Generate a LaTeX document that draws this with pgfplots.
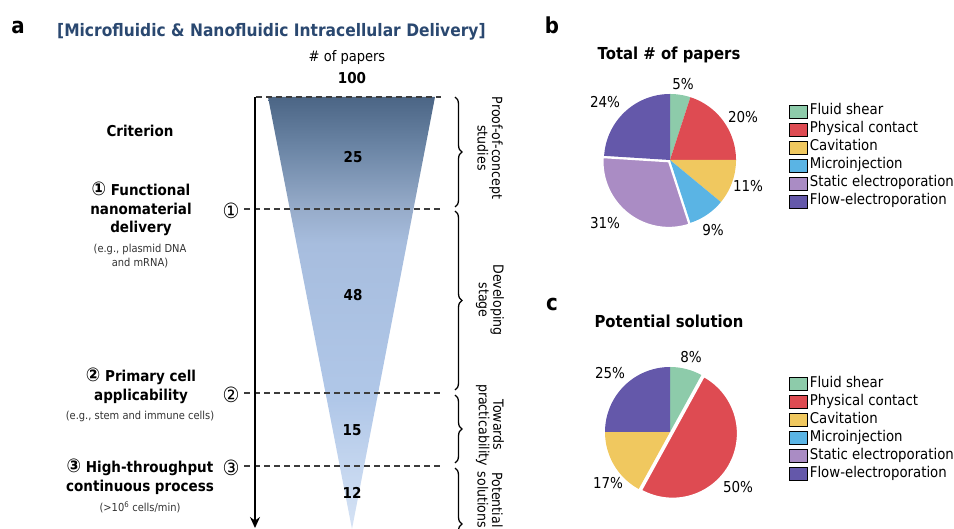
\documentclass[border=0pt]{standalone}
\usepackage{pgfplots}
\pgfplotsset{compat=1.18}
\usepackage{fontspec}
\setmainfont{DejaVu Sans}[FakeStretch=0.9]
\usetikzlibrary{arrows.meta,decorations.pathreplacing}

\definecolor{fs}{RGB}{141,203,170}
\definecolor{pc}{RGB}{222,75,82}
\definecolor{cav}{RGB}{240,200,95}
\definecolor{mi}{RGB}{90,180,228}
\definecolor{se}{RGB}{170,140,196}
\definecolor{fe}{RGB}{100,88,170}
\definecolor{titleblue}{RGB}{42,72,112}
\definecolor{dashgray}{RGB}{60,60,60}
\definecolor{ftop}{RGB}{75,101,133}
\definecolor{fa}{RGB}{108,134,166}
\definecolor{fb}{RGB}{151,172,202}
\definecolor{fc}{RGB}{167,189,222}
\definecolor{fd}{RGB}{176,199,232}
\definecolor{fbot}{RGB}{214,227,245}
\pgfdeclareverticalshading{funnelshade}{100bp}{color(0bp)=(fbot); color(25bp)=(fbot); color(40bp)=(fd); color(58bp)=(fc); color(62bp)=(fb); color(69bp)=(fa); color(75bp)=(ftop); color(100bp)=(ftop)}

\pgfplotsset{canvas/.style={x=1pt,y=1pt,xmin=0,xmax=954,ymin=-529,ymax=0,
  hide axis,clip=false,scale only axis,anchor=north west,at={(0pt,0pt)}},
  pielegend/.style={
    legend image code/.code={\fill[##1] (0pt,-6.5pt) rectangle (18pt,6.5pt);},
    legend style={draw=none,fill=none,inner sep=0pt,outer sep=0pt,row sep=0pt,
      anchor=north west,font=\fontsize{14.8}{17}\selectfont,
      cells={anchor=west},
      nodes={inner xsep=2.5pt,inner ysep=0pt,text height=12pt,text depth=6pt}}}}

\tikzset{lbl/.style={inner sep=0pt}}
\newcommand{\cnum}[1]{{\fontsize{19}{18}\selectfont #1}}

% slice: cx, cy, r, cum start, cum end, color
\newcommand{\slice}[6]{%
  \addplot[fill=#6,draw=none,domain={90-3.6*#5}:{90-3.6*#4},samples=60,forget plot]
    ({#1+#3*cos(x)},{#2+#3*sin(x)}) -- (axis cs:#1,#2) -- cycle;}
\newcommand{\xslice}[6]{%
  \addplot[fill=#6,draw=white,line width=1.5pt,domain={90-3.6*#5}:{90-3.6*#4},samples=60,forget plot]
    ({#1+#3*cos(x)},{#2+#3*sin(x)}) -- (axis cs:#1,#2) -- cycle;}

\begin{document}
\begin{tikzpicture}
\useasboundingbox (0,0) rectangle (954pt,-529pt);

% ---------------- panel a ----------------
\begin{axis}[canvas]
  % funnel (100 papers at top, narrowing)
  \addplot[draw=none,shading=funnelshade] coordinates {(268,-97) (435,-97) (352,-529)} -- cycle;

  % dashed criterion lines
  \draw[dashgray,line width=1.2pt,dash pattern=on 6pt off 4pt] (256,-97) -- (441,-97);
  \draw[dashgray,line width=1.2pt,dash pattern=on 6pt off 4pt] (244,-209) -- (441,-209);
  \draw[dashgray,line width=1.2pt,dash pattern=on 6pt off 4pt] (244,-393) -- (441,-393);
  \draw[dashgray,line width=1.2pt,dash pattern=on 6pt off 4pt] (244,-466) -- (441,-466);

  % arrow
  \draw[line width=1.5pt,-{Stealth[length=11pt,width=10pt]}] (255,-97) -- (255,-528);

  % braces
  \draw[line width=1.3pt,decorate,decoration={brace,amplitude=7pt}] (455,-97) -- (455,-207);
  \draw[line width=1.3pt,decorate,decoration={brace,amplitude=7pt}] (455,-211) -- (455,-390);
  \draw[line width=1.3pt,decorate,decoration={brace,amplitude=7pt}] (455,-395) -- (455,-463);
  \draw[line width=1.3pt,decorate,decoration={brace,amplitude=7pt}] (455,-468) -- (455,-580);

  % titles
  \node[lbl,font=\bfseries\fontsize{22}{24}\selectfont] at (18,-27) {a};
  \node[lbl,anchor=west,font=\bfseries\fontsize{17.2}{20}\selectfont,text=titleblue] at (57,-32) {[Microfluidic \& Nanofluidic Intracellular Delivery]};
  \node[lbl,font=\fontsize{14.5}{17}\selectfont] at (347,-58) {\# of papers};
  \node[lbl,font=\bfseries\fontsize{15}{18}\selectfont] at (352,-78) {100};

  % numbers in funnel
  \node[lbl,font=\bfseries\fontsize{15}{18}\selectfont] at (353,-157) {25};
  \node[lbl,font=\bfseries\fontsize{15}{18}\selectfont] at (353,-295) {48};
  \node[lbl,font=\bfseries\fontsize{15}{18}\selectfont] at (352,-430) {15};
  \node[lbl,font=\bfseries\fontsize{15}{18}\selectfont] at (352,-493) {12};

  % circled markers
  \node[lbl,font=\fontsize{21}{22}\selectfont] at (231,-211) {①};
  \node[lbl,font=\fontsize{21}{22}\selectfont] at (231,-395) {②};
  \node[lbl,font=\fontsize{21}{22}\selectfont] at (231,-468) {③};

  % criteria
  \node[lbl,font=\bfseries\fontsize{15}{18}\selectfont] at (140,-131) {Criterion};
  \node[lbl,align=center,font=\bfseries\fontsize{15}{18.5}\selectfont] at (141,-209) {\cnum{①} Functional\\nanomaterial\\delivery};
  \node[lbl,align=center,font=\fontsize{11}{14}\selectfont,text=black!80] at (140,-256) {(e.g., plasmid DNA\\and mRNA)};
  \node[lbl,align=center,font=\bfseries\fontsize{15}{18.5}\selectfont] at (141,-386) {\cnum{②} Primary cell\\applicability};
  \node[lbl,align=center,font=\fontsize{11}{14}\selectfont,text=black!80] at (140,-416) {(e.g., stem and immune cells)};
  \node[lbl,align=center,font=\bfseries\fontsize{15}{18.5}\selectfont] at (140,-477) {\cnum{③} High-throughput\\continuous process};
  \node[lbl,align=center,font=\fontsize{11}{14}\selectfont,text=black!80] at (140,-507) {(>10\textsuperscript{6} cells/min)};

  % stage labels
  \node[lbl,rotate=-90,align=center,font=\fontsize{14}{14.5}\selectfont] at (490,-148) {Proof-of-concept\\studies};
  \node[lbl,rotate=-90,align=center,font=\fontsize{14}{14.5}\selectfont] at (490,-300) {Developing\\stage};
  \node[lbl,rotate=-90,align=center,font=\fontsize{14}{14.5}\selectfont] at (490,-425) {Towards\\practicability};
  \node[lbl,rotate=-90,align=center,font=\fontsize{14}{14.5}\selectfont] at (490,-500) {Potential\\solutions};
\end{axis}

% ---------------- panel b ----------------
\begin{axis}[canvas,pielegend,legend style={at={(0.8270,0.8053)}}]
  % Fluid shear 5, Physical contact 20, Cavitation 11, Microinjection 9, Static 31, Flow 24
  \slice{670}{-160}{66}{0}{5}{fs}
  \slice{670}{-160}{66}{5}{25}{pc}
  \slice{670}{-160}{66}{25}{36}{cav}
  \slice{670}{-160}{66}{36}{45}{mi}
  \slice{670}{-160}{66}{76}{100}{fe}
  \xslice{668.8}{-161.6}{66}{45}{76}{se}
  \addlegendimage{fill=fs}\addlegendentry{Fluid shear}
  \addlegendimage{fill=pc}\addlegendentry{Physical contact}
  \addlegendimage{fill=cav}\addlegendentry{Cavitation}
  \addlegendimage{fill=mi}\addlegendentry{Microinjection}
  \addlegendimage{fill=se}\addlegendentry{Static electroporation}
  \addlegendimage{fill=fe}\addlegendentry{Flow-electroporation}

  \node[lbl,font=\bfseries\fontsize{22}{24}\selectfont] at (552,-25) {b};
  \node[lbl,font=\bfseries\fontsize{16.5}{19}\selectfont] at (669,-55) {Total \# of papers};
  \node[lbl,font=\fontsize{15}{17}\selectfont] at (683,-84) {5\%};
  \node[lbl,font=\fontsize{15}{17}\selectfont] at (743,-117) {20\%};
  \node[lbl,font=\fontsize{15}{17}\selectfont] at (748,-186) {11\%};
  \node[lbl,font=\fontsize{15}{17}\selectfont] at (713,-230) {9\%};
  \node[lbl,font=\fontsize{15}{17}\selectfont] at (605,-223) {31\%};
  \node[lbl,font=\fontsize{15}{17}\selectfont] at (605,-102) {24\%};
\end{axis}

% ---------------- panel c ----------------
\begin{axis}[canvas,pielegend,legend style={at={(0.8270,0.2911)}}]
  % Fluid shear 8, Physical contact 50, Cavitation 17, Microinjection 0, Static 0, Flow 25
  \slice{670}{-432}{65}{0}{8}{fs}
  \slice{670}{-432}{65}{58}{75}{cav}
  \slice{670}{-432}{65}{75}{100}{fe}
  \xslice{672.6}{-433.4}{65}{8}{58}{pc}
  \addlegendimage{fill=fs}\addlegendentry{Fluid shear}
  \addlegendimage{fill=pc}\addlegendentry{Physical contact}
  \addlegendimage{fill=cav}\addlegendentry{Cavitation}
  \addlegendimage{fill=mi}\addlegendentry{Microinjection}
  \addlegendimage{fill=se}\addlegendentry{Static electroporation}
  \addlegendimage{fill=fe}\addlegendentry{Flow-electroporation}

  \node[lbl,font=\bfseries\fontsize{22}{24}\selectfont] at (552,-304) {c};
  \node[lbl,font=\bfseries\fontsize{16.5}{19}\selectfont] at (669,-321) {Potential solution};
  \node[lbl,font=\fontsize{15}{17}\selectfont] at (691,-357) {8\%};
  \node[lbl,font=\fontsize{15}{17}\selectfont] at (610,-373) {25\%};
  \node[lbl,font=\fontsize{15}{17}\selectfont] at (608,-483) {17\%};
  \node[lbl,font=\fontsize{15}{17}\selectfont] at (738,-487) {50\%};
\end{axis}
\end{tikzpicture}
\end{document}
